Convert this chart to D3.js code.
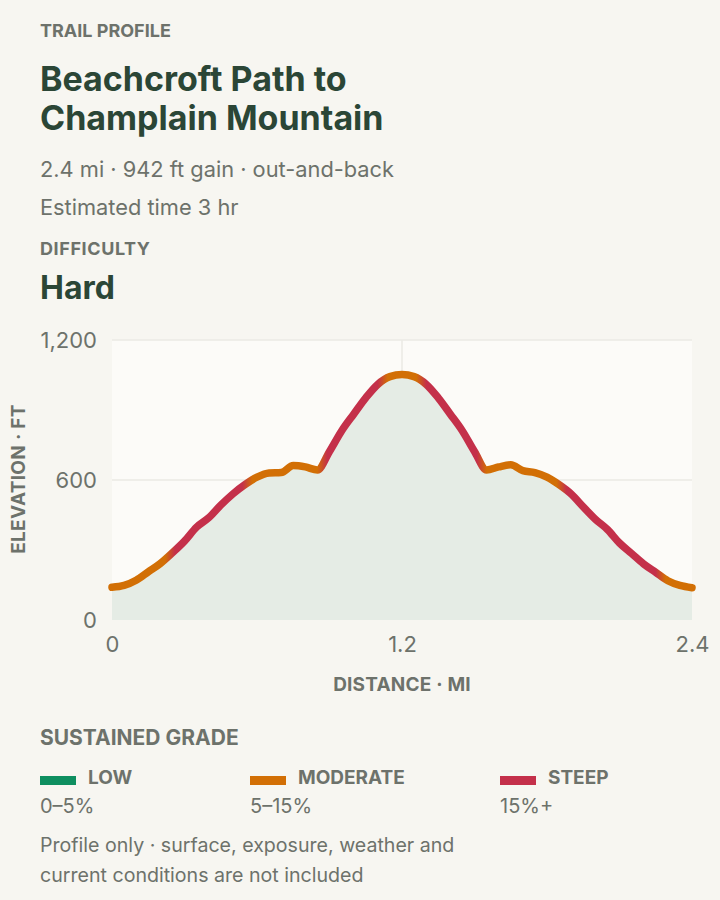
<!DOCTYPE html>
<html><head><meta charset="utf-8">
<script src="https://cdn.jsdelivr.net/npm/d3@7"></script>
<style>
html,body{margin:0;padding:0;background:#f7f6f1;}
svg{display:block;font-family:Inter,"Noto Sans",sans-serif;}
</style></head><body>
<svg id="c" width="720" height="900"></svg>
<script>
// ---- data ----
const distanceMi = [0,0.05,0.10,0.15,0.20,0.25,0.30,0.35,0.40,0.45,0.50,0.55,0.60,0.65,0.70,0.75,0.80,0.85,0.90,0.95,1.00,1.05,1.10,1.15,1.20,
  1.25,1.30,1.35,1.40,1.45,1.50,1.55,1.60,1.65,1.70,1.75,1.80,1.85,1.90,1.95,2.00,2.05,2.10,2.15,2.20,2.25,2.30,2.35,2.40];
const elevationFt = [140,148,170,206,242,288,338,398,438,492,540,580,612,630,632,662,656,643,722,810,882,952,1010,1043,1052,
  1043,1010,952,882,810,722,643,656,665,640,632,612,580,540,485,432,388,330,285,240,204,168,148,138];
const segFrom  = [0,   0.24, 0.56, 0.87, 1.12, 1.28, 1.53, 1.86, 2.27];
const segTo    = [0.24,0.56, 0.87, 1.12, 1.28, 1.53, 1.86, 2.27, 2.40];
const segGrade = ["moderate","steep","moderate","steep","moderate","steep","moderate","steep","moderate"];
const gradeKeys   = ["low","moderate","steep"];
const gradeNames  = ["LOW","MODERATE","STEEP"];
const gradeRanges = ["0–5%","5–15%","15%+"];
const gradeColors = {low:"#0e8f60", moderate:"#d26f05", steep:"#c4304a"};
const xTicks = [0,1.2,2.4];
const yTicks = [0,600,1200];

// ---- layout ----
const svg = d3.select("#c");
const gray = "#6d726b", dark = "#2b4636";
const L = 112, R = 692, T = 340, B = 620;
const x = d3.scaleLinear().domain([0,2.4]).range([L,R]);
const y = d3.scaleLinear().domain([0,1200]).range([B,T]);

function txt(xp, yp, s, size, weight, fill, extra){
  const t = svg.append("text").attr("x",xp).attr("y",yp).text(s)
    .attr("font-size",size).attr("font-weight",weight).attr("fill",fill);
  if (extra) extra(t);
  return t;
}
txt(40,37,"TRAIL PROFILE",18,700,gray);
txt(40,91,"Beachcroft Path to",34,700,dark);
txt(40,130,"Champlain Mountain",34,700,dark);
txt(40,177,"2.4 mi · 942 ft gain · out-and-back",21.8,400,gray);
txt(40,215,"Estimated time 3 hr",21.8,400,gray);
txt(40,255,"DIFFICULTY",18,700,gray,t=>t.attr("letter-spacing",0.6));
txt(40,299,"Hard",32,700,dark);

// plot background
svg.append("rect").attr("x",L).attr("y",T).attr("width",R-L).attr("height",B-T).attr("fill","#fcfbf8");
// grid
const grid = svg.append("g").attr("stroke","#ebeae4").attr("stroke-width",1.5);
yTicks.filter(v=>v>0).forEach(v=>grid.append("line").attr("x1",L).attr("x2",R).attr("y1",y(v)).attr("y2",y(v)));
xTicks.filter(v=>v>0 && v<2.4).forEach(v=>grid.append("line").attr("x1",x(v)).attr("x2",x(v)).attr("y1",T).attr("y2",B));

const pts = distanceMi.map((d,i)=>[d,elevationFt[i]]);
const curve = d3.curveMonotoneX;
svg.append("path").datum(pts)
  .attr("d", d3.area().x(d=>x(d[0])).y0(y(0)).y1(d=>y(d[1])).curve(curve))
  .attr("fill","#e5ece5");

// gradient along distance
const defs = svg.append("defs");
const grad = defs.append("linearGradient").attr("id","gradeGrad")
  .attr("gradientUnits","userSpaceOnUse")
  .attr("x1",x(0)).attr("x2",x(2.4)).attr("y1",0).attr("y2",0);
const span = x(2.4)-x(0), blend = 5;
grad.append("stop").attr("offset",0).attr("stop-color",gradeColors[segGrade[0]]);
for (let i=1;i<segFrom.length;i++){
  const bx = x(segFrom[i]);
  grad.append("stop").attr("offset",(bx-blend-x(0))/span).attr("stop-color",gradeColors[segGrade[i-1]]);
  grad.append("stop").attr("offset",(bx+blend-x(0))/span).attr("stop-color",gradeColors[segGrade[i]]);
}
grad.append("stop").attr("offset",1).attr("stop-color",gradeColors[segGrade[segGrade.length-1]]);

svg.append("path").datum(pts)
  .attr("d", d3.line().x(d=>x(d[0])).y(d=>y(d[1])).curve(curve))
  .attr("fill","none").attr("stroke","url(#gradeGrad)").attr("stroke-width",7.5)
  .attr("stroke-linecap","round").attr("stroke-linejoin","round");

// axes
const fmtY = d3.format(",");
const yAxis = svg.append("g").attr("transform",`translate(${L},0)`)
  .call(d3.axisLeft(y).tickValues(yTicks).tickFormat(fmtY).tickSize(0).tickPadding(15));
const xAxis = svg.append("g").attr("transform",`translate(0,${B})`)
  .call(d3.axisBottom(x).tickValues(xTicks).tickFormat(d3.format("")).tickSize(0).tickPadding(16));
[yAxis,xAxis].forEach(a=>{
  a.select(".domain").remove();
  a.selectAll("text").attr("font-size",22).attr("fill",gray).attr("font-family","Inter,'Noto Sans',sans-serif");
});

txt(0,0,"ELEVATION · FT",19,700,gray,t=>t.attr("text-anchor","middle").attr("letter-spacing",0.3)
  .attr("transform","translate(25,479) rotate(-90)"));
txt(x(1.2),691,"DISTANCE · MI",19,700,gray,t=>t.attr("text-anchor","middle").attr("letter-spacing",0.2));

// legend
txt(40,745,"SUSTAINED GRADE",21,700,gray);
const lx = [40,250,500];
gradeKeys.forEach((k,i)=>{
  svg.append("rect").attr("x",lx[i]).attr("y",776).attr("width",36).attr("height",9).attr("fill",gradeColors[k]);
  txt(lx[i]+48,784,gradeNames[i],19,700,gray);
  txt(lx[i],813,gradeRanges[i],20,400,gray);
});
txt(40,852,"Profile only · surface, exposure, weather and",19.6,400,gray);
txt(40,882,"current conditions are not included",19.6,400,gray);
</script>
</body></html>
